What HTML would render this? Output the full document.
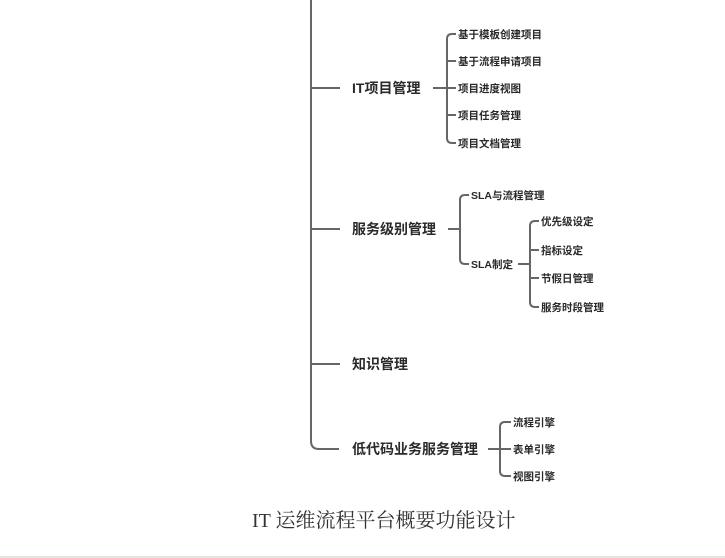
<!DOCTYPE html>
<html><head><meta charset="utf-8"><style>
html,body{margin:0;padding:0;background:#fff;}
svg{display:block;}
.m{font-family:"Liberation Sans","Noto Sans CJK SC",sans-serif;font-size:14px;font-weight:700;fill:#2a2a2a;}
.l{font-family:"Liberation Sans","Noto Sans CJK SC",sans-serif;font-size:10.5px;font-weight:700;fill:#2a2a2a;}
.c{font-family:"Liberation Serif","Noto Serif CJK SC",serif;font-size:20px;fill:#333;}
path,line{stroke:#666;stroke-width:2;fill:none;}
</style></head><body>
<svg width="725" height="558" viewBox="0 0 725 558">
<path d="M311 0 V441 Q311 449 319 449 H339"/>
<line x1="311" y1="88" x2="340" y2="88"/>
<line x1="311" y1="229" x2="340" y2="229"/>
<line x1="311" y1="364" x2="340" y2="364"/>
<text class="m" x="352" y="93">IT项目管理</text>
<text class="m" x="352" y="234">服务级别管理</text>
<text class="m" x="352" y="369">知识管理</text>
<text class="m" x="352" y="454">低代码业务服务管理</text>
<line x1="433" y1="88" x2="456" y2="88"/>
<path d="M456 34 H452 Q447 34 447 39 V138 Q447 143 452 143 H456"/>
<line x1="447" y1="61" x2="456" y2="61"/>
<line x1="447" y1="115" x2="456" y2="115"/>
<text class="l" x="458" y="38">基于模板创建项目</text>
<text class="l" x="458" y="65">基于流程申请项目</text>
<text class="l" x="458" y="92">项目进度视图</text>
<text class="l" x="458" y="119">项目任务管理</text>
<text class="l" x="458" y="147">项目文档管理</text>
<line x1="448" y1="229" x2="460" y2="229"/>
<path d="M469 195 H465 Q460 195 460 200 V259 Q460 264 465 264 H469"/>
<text class="l" x="471" y="199">SLA与流程管理</text>
<text class="l" x="471" y="268">SLA制定</text>
<line x1="518" y1="264" x2="530" y2="264"/>
<path d="M539 221 H535 Q530 221 530 226 V302 Q530 307 535 307 H539"/>
<line x1="530" y1="250" x2="539" y2="250"/>
<line x1="530" y1="278" x2="539" y2="278"/>
<text class="l" x="541" y="225">优先级设定</text>
<text class="l" x="541" y="254">指标设定</text>
<text class="l" x="541" y="282">节假日管理</text>
<text class="l" x="541" y="311">服务时段管理</text>
<line x1="488" y1="449" x2="511" y2="449"/>
<path d="M511 422 H505 Q500 422 500 427 V471 Q500 476 505 476 H511"/>
<text class="l" x="513" y="426">流程引擎</text>
<text class="l" x="513" y="453">表单引擎</text>
<text class="l" x="513" y="480">视图引擎</text>
<text class="c" x="252" y="527">IT 运维流程平台概要功能设计</text>
<rect x="0" y="556" width="725" height="2" fill="#e6e4dc"/>
</svg>
</body></html>
